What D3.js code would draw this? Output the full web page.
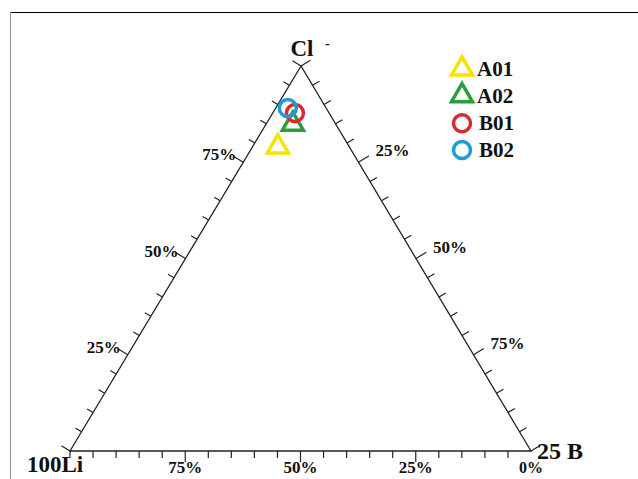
<!DOCTYPE html>
<html>
<head>
<meta charset="utf-8">
<script src="https://cdn.jsdelivr.net/npm/d3@7"></script>
<style>
  html, body { margin: 0; padding: 0; background: #fff; }
  svg { display: block; }
  text { font-family: "Liberation Serif", "Times New Roman", serif; font-weight: bold; fill: #111; }
</style>
</head>
<body>
<svg id="chart" width="638" height="479"></svg>
<script>
// ---- data ----
const sampleNames = ["A01", "A02", "B01", "B02"];
const liValues = [15.5, 9.3, 7.4, 8.3];   // % Li
const clValues = [79.0, 84.9, 87.8, 89.1]; // % Cl
const bValues  = [5.5, 5.8, 4.8, 2.6];    // % B
const sampleShapes = ["triangle", "triangle", "circle", "circle"];
const sampleColors = ["#f5e400", "#2b9e3c", "#d92b2f", "#1f9bd8"];
const tickValues = d3.range(0, 101, 5);
const majorTicks = [25, 50, 75];
const bottomLabels = ["75%", "50%", "25%", "0%"];
const bottomLabelValues = [75, 50, 25, 0];   // % Li
const leftLabels = ["25%", "50%", "75%"];
const leftLabelValues = [25, 50, 75];        // % Cl
const rightLabels = ["25%", "50%", "75%"];
const rightLabelValues = [25, 50, 75];       // % B

// ---- geometry ----
const svg = d3.select("#chart");
const VLi = [70, 451], VCl = [301, 66], VB = [531, 451];

const tY = d3.scaleLinear().domain([0, 100]).range([0, 1]);
function tern(li, cl, b) {
  const s = li + cl + b;
  const a = li / s, c = cl / s, d = b / s;
  return [a * VLi[0] + c * VCl[0] + d * VB[0], a * VLi[1] + c * VCl[1] + d * VB[1]];
}
function lerp(p, q, t) { return [p[0] + (q[0] - p[0]) * t, p[1] + (q[1] - p[1]) * t]; }
function normal(p, q) {
  const dx = q[0] - p[0], dy = q[1] - p[1], L = Math.hypot(dx, dy);
  return [dy / L, -dx / L];
}
function fix(n, want) { return (n[0] * want[0] + n[1] * want[1]) < 0 ? [-n[0], -n[1]] : n; }

// frame
svg.append("line").attr("x1", 10).attr("y1", 12.5).attr("x2", 638).attr("y2", 12.5)
  .attr("stroke", "#000").attr("stroke-width", 1.2);
svg.append("line").attr("x1", 10.5).attr("y1", 12).attr("x2", 10.5).attr("y2", 479)
  .attr("stroke", "#999").attr("stroke-width", 1.2);

const g = svg.append("g");

// triangle
g.append("path")
  .attr("d", d3.line()([VLi, VCl, VB, VLi]) + "Z")
  .attr("fill", "none").attr("stroke", "#222").attr("stroke-width", 1.3);

// ticks
const tickG = g.append("g").attr("stroke", "#222").attr("stroke-width", 1.2);
const nb = fix(normal(VLi, VB), [0, 1]);
const nl = fix(normal(VLi, VCl), [-1, -0.5]);
const nr = fix(normal(VCl, VB), [1, -0.5]);

tickValues.forEach(v => {
  const len = majorTicks.includes(v) ? 11 : 7;
  const endLen = (v === 100 || v === 0) ? 10 : len;
  let p = lerp(VLi, VB, tY(100 - v));
  if (v !== 0) tickG.append("line").attr("x1", p[0]).attr("y1", p[1])
    .attr("x2", p[0] + nb[0] * len).attr("y2", p[1] + nb[1] * len);
  p = lerp(VLi, VCl, tY(v));
  tickG.append("line").attr("x1", p[0]).attr("y1", p[1])
    .attr("x2", p[0] + nl[0] * endLen).attr("y2", p[1] + nl[1] * endLen);
  p = lerp(VCl, VB, tY(v));
  tickG.append("line").attr("x1", p[0]).attr("y1", p[1])
    .attr("x2", p[0] + nr[0] * (endLen + 1)).attr("y2", p[1] + nr[1] * (endLen + 1));
});

// tick labels
const lab = g.append("g").style("font-size", "17px");
bottomLabels.forEach((t, i) => {
  const p = lerp(VLi, VB, tY(100 - bottomLabelValues[i]));
  lab.append("text").attr("x", p[0]).attr("y", p[1] + 22).attr("text-anchor", "middle")
    .style("font-size", bottomLabelValues[i] === 0 ? "16px" : null).text(t);
});
leftLabels.forEach((t, i) => {
  const p = lerp(VLi, VCl, tY(leftLabelValues[i]));
  lab.append("text").attr("x", p[0] - 7).attr("y", p[1] - 2).attr("text-anchor", "end").text(t);
});
rightLabels.forEach((t, i) => {
  const p = lerp(VCl, VB, tY(rightLabelValues[i]));
  lab.append("text").attr("x", p[0] + 17).attr("y", p[1] - 6).attr("text-anchor", "start").text(t);
});

// vertex labels
g.append("text").attr("x", 302).attr("y", 56).attr("text-anchor", "middle").style("font-size", "23px").text("Cl");
g.append("text").attr("x", 325).attr("y", 48).style("font-size", "14px").text("-");
g.append("text").attr("x", 27).attr("y", 472).style("font-size", "23px").text("100Li");
g.append("text").attr("x", 537).attr("y", 459).style("font-size", "24px").text("25 B");

// data markers
const triSym = d3.symbol().type(d3.symbolTriangle).size(190);
const pts = sampleNames.map((n, i) => ({
  name: n, p: tern(liValues[i], clValues[i], bValues[i]), shape: sampleShapes[i], color: sampleColors[i]
}));
const mk = g.append("g");
pts.forEach(d => {
  if (d.shape === "triangle") {
    mk.append("path").attr("d", triSym()).attr("transform", `translate(${d.p[0]},${d.p[1]})`)
      .attr("fill", "none").attr("stroke", d.color).attr("stroke-width", 3.5);
  } else {
    mk.append("circle").attr("cx", d.p[0]).attr("cy", d.p[1]).attr("r", 8.5)
      .attr("fill", "none").attr("stroke", d.color).attr("stroke-width", 3.5);
  }
});

// legend
const leg = svg.append("g").attr("transform", "translate(462,70)");
const legY = d3.scaleLinear().domain([0, 3]).range([0, 80]);
sampleNames.forEach((n, i) => {
  const y = legY(i) - (i < 2 ? 1 : 0);
  if (sampleShapes[i] === "triangle") {
    leg.append("path").attr("d", triSym()).attr("transform", `translate(0,${y})`)
      .attr("fill", "none").attr("stroke", sampleColors[i]).attr("stroke-width", 3.5);
  } else {
    leg.append("circle").attr("cx", 0).attr("cy", y).attr("r", 8.5)
      .attr("fill", "none").attr("stroke", sampleColors[i]).attr("stroke-width", 3.5);
  }
  leg.append("text").attr("x", i < 2 ? 15 : 17).attr("y", y + 7).style("font-size", "21px").text(n);
});
</script>
</body>
</html>
